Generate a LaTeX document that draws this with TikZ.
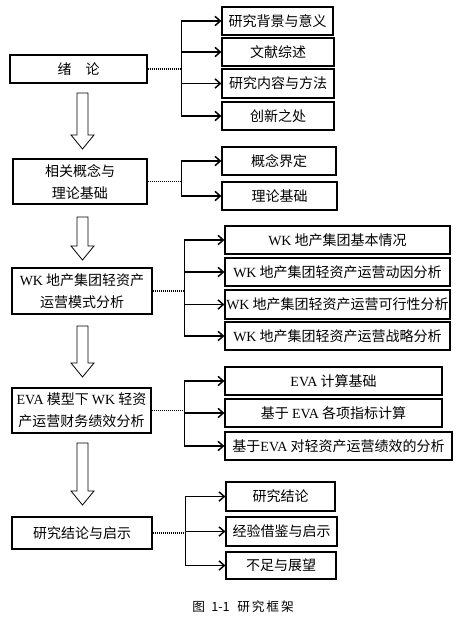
\documentclass[tikz,border=0pt]{standalone}
\usepackage{fontspec}
\setmainfont{Liberation Serif}
\newfontfamily\cjk{Noto Sans CJK SC}
\usetikzlibrary{arrows.meta}
\newcommand{\lat}[1]{{\rmfamily #1}}
\tikzset{
  every picture/.style={line join=miter, >={Straight Barb[length=4pt,width=7pt]}},
  box/.style 2 args={draw, line width=0.9pt, minimum width=#1*0.75pt, minimum height=#2*0.75pt,
    inner sep=0pt, align=center, font=\cjk\fontsize{10.5}{16.5}\selectfont},
  branch/.style={line width=1.1pt, dash pattern=on 1.2pt off 0.3pt},
  trunk/.style={line width=0.6pt},
  hollow/.style={line width=0.6pt},
}
\newcommand{\hollowarrow}[3]{%
  \draw[hollow] (#1-5.5,#2) -- (#1+5.5,#2) -- (#1+5.5,#3-14) -- (#1+11.5,#3-14) -- (#1,#3)
    -- (#1-11.5,#3-14) -- (#1-5.5,#3-14) -- cycle;}

\begin{document}
\begin{tikzpicture}[x=0.75pt,y=-0.75pt]
\useasboundingbox (0,0) rectangle (470,621);
% main column
\node[box={137}{28}] (xl) at (78.5,69) {绪\quad 论};
\node[box={134}{45}] (gn) at (80,181.5) {相关概念与\\理论基础};
\node[box={140}{46}] (ms) at (82,291) {\lat{WK} 地产集团轻资产\\运营模式分析};
\node[box={139}{45}] (eva) at (81.5,410.5) {\lat{EVA} 模型下 \lat{WK} 轻资\\产运营财务绩效分析};
\node[box={140}{32}] (jl) at (82,533) {研究结论与启示};
\hollowarrow{82.5}{93}{149}
\hollowarrow{82.5}{217}{260}
\hollowarrow{82.5}{326}{377}
\hollowarrow{82.5}{443}{505}
% chapter 1
\node[box={111}{28}] (xl1) at (277.5,21) {研究背景与意义};
\node[box={112}{28}] (xl2) at (278,52) {文献综述};
\node[box={112}{29}] (xl3) at (278,83.5) {研究内容与方法};
\node[box={112}{28}] (xl4) at (278,116) {创新之处};
% chapter 2
\node[box={114}{28}] (gn1) at (279,161) {概念界定};
\node[box={115}{28}] (gn2) at (279.5,196) {理论基础};
% chapter 3
\node[box={225}{28}] (ms1) at (337.5,240) {\lat{WK} 地产集团基本情况};
\node[box={225}{28}] (ms2) at (337.5,272) {\lat{WK} 地产集团轻资产运营动因分析};
\node[box={225}{29}] (ms3) at (337.5,304.5) {\lat{WK} 地产集团轻资产运营可行性分析};
\node[box={225}{28}] (ms4) at (337.5,336) {\lat{WK} 地产集团轻资产运营战略分析};
% chapter 4
\node[box={217}{28}] (eva1) at (333.5,381) {\lat{EVA} 计算基础};
\node[box={217}{28}] (eva2) at (333.5,413) {基于 \lat{EVA} 各项指标计算};
\node[box={227}{28}] (eva3) at (338.5,446) {基于\lat{EVA} 对轻资产运营绩效的分析};
% chapter 5
\node[box={109}{29}] (jl1) at (280.5,496.5) {研究结论};
\node[box={111}{29}] (jl2) at (281.5,531.5) {经验借鉴与启示};
\node[box={110}{27}] (jl3) at (281,565.5) {不足与展望};
% connectors
\coordinate (t1) at ([xshift=-30pt]xl1.west |- xl.east);
\draw[branch] (xl.east) -- (t1);
\draw[trunk] (t1 |- xl1.west) -- (t1 |- xl4.west);
\foreach \c in {xl1,xl2,xl3,xl4} \draw[branch,->] (t1 |- \c.west) -- (\c.west);
\coordinate (t2) at ([xshift=-30pt]gn1.west |- gn.east);
\draw[branch] (gn.east) -- (t2);
\draw[trunk] (t2 |- gn1.west) -- (t2 |- gn2.west);
\foreach \c in {gn1,gn2} \draw[branch,->] (t2 |- \c.west) -- (\c.west);
\coordinate (t3) at ([xshift=-30pt]ms1.west |- ms.east);
\draw[branch] (ms.east) -- (t3);
\draw[trunk] (t3 |- ms1.west) -- (t3 |- ms4.west);
\foreach \c in {ms1,ms2,ms3,ms4} \draw[branch,->] (t3 |- \c.west) -- (\c.west);
\coordinate (t4) at ([xshift=-30pt]eva1.west |- eva.east);
\draw[branch] (eva.east) -- (t4);
\draw[trunk] (t4 |- eva1.west) -- (t4 |- eva3.west);
\foreach \c in {eva1,eva2,eva3} \draw[branch,->] (t4 |- \c.west) -- (\c.west);
\coordinate (t5) at ([xshift=-30pt]jl1.west |- jl.east);
\draw[branch] (jl.east) -- (t5);
\draw[trunk] (t5 |- jl1.west) -- (t5 |- jl3.west);
\foreach \c in {jl1,jl2,jl3} \draw[branch,->] (t5 |- \c.west) -- (\c.west);
% caption
\node[font=\cjk\fontsize{9.5}{12}\selectfont] (cap) at (243,607) {图\hspace{0.5em}1-1\hspace{0.6em}研\hspace{0.15em}究\hspace{0.15em}框\hspace{0.15em}架};
\end{tikzpicture}
\end{document}
